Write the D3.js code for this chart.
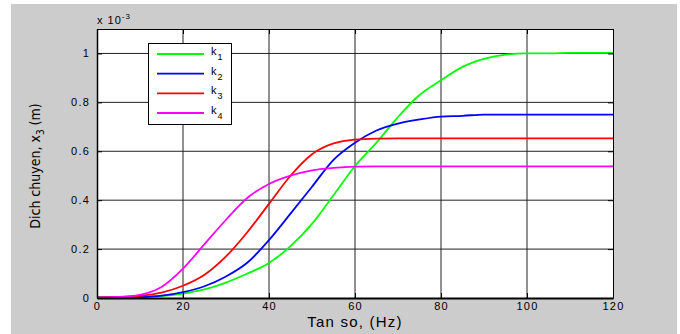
<!DOCTYPE html>
<html>
<head>
<meta charset="utf-8">
<script src="https://cdn.jsdelivr.net/npm/d3@7"></script>
<style>
  body { margin: 0; background: #fff; }
  svg { display: block; font-family: "Liberation Sans", Arial, sans-serif; }
</style>
</head>
<body>
<svg width="680" height="334"></svg>
<script>
// frequency samples (Hz)
var freq = [0,5,10,15,20,25,30,35,40,45,50,55,60,65,70,75,80,85,90,95,100,105,110,115,120];
// displacement x3, in units of 1e-3 m
var k1 = [0.004,0.004,0.005,0.008,0.018,0.035,0.063,0.1,0.143,0.212,0.303,0.42,0.54,0.635,0.74,0.83,0.89,0.945,0.978,0.995,1.0,1.0,1.002,1.002,1.002];
var k2 = [0.001,0.002,0.004,0.01,0.024,0.048,0.088,0.145,0.237,0.345,0.455,0.565,0.635,0.685,0.713,0.73,0.742,0.745,0.75,0.75,0.75,0.75,0.75,0.75,0.75];
var k3 = [0.002,0.004,0.009,0.022,0.05,0.095,0.17,0.27,0.385,0.5,0.588,0.632,0.648,0.652,0.653,0.653,0.653,0.653,0.653,0.653,0.653,0.653,0.653,0.653,0.653];
var k4 = [0.002,0.004,0.013,0.045,0.12,0.22,0.32,0.41,0.466,0.5,0.522,0.532,0.537,0.538,0.538,0.538,0.538,0.538,0.538,0.538,0.538,0.538,0.538,0.538,0.538];
var seriesNames = ['1','2','3','4'];
var seriesColors = ['#00ff00','#0000ff','#ff0000','#ff00ff'];
var xTicks = [0,20,40,60,80,100,120];
var yTicks = [0,0.2,0.4,0.6,0.8,1];

var svg = d3.select('svg');

// gray figure background
svg.append('rect')
    .attr('x', 11).attr('y', 4)
    .attr('width', 666).attr('height', 330)
    .attr('fill', '#cccccc');

var plot = {l: 97, t: 29, r: 613, b: 298};

var xScale = d3.scaleLinear().domain([0, 120]).range([plot.l, plot.r]);
var yScale = d3.scaleLinear().domain([0, 1.1]).range([plot.b, plot.t]);

svg.append('rect')
    .attr('x', plot.l).attr('y', plot.t)
    .attr('width', plot.r - plot.l).attr('height', plot.b - plot.t)
    .attr('fill', '#fff');

// grid
var gridG = svg.append('g');
gridG.selectAll('.vgrid')
    .data(xTicks.slice(1, -1))
    .enter().append('line')
    .attr('x1', function(d) { return xScale(d); })
    .attr('x2', function(d) { return xScale(d); })
    .attr('y1', plot.t).attr('y2', plot.b)
    .attr('stroke', '#222').attr('stroke-width', 1);
gridG.selectAll('.hgrid')
    .data(yTicks.slice(1))
    .enter().append('line')
    .attr('y1', function(d) { return yScale(d); })
    .attr('y2', function(d) { return yScale(d); })
    .attr('x1', plot.l).attr('x2', plot.r)
    .attr('stroke', '#222').attr('stroke-width', 1);

// curves
var line = d3.line()
    .x(function(d) { return xScale(d[0]); })
    .y(function(d) { return yScale(d[1]); })
    .curve(d3.curveMonotoneX);

[k1, k2, k3, k4].forEach(function(vals, i) {
    svg.append('path')
        .datum(freq.map(function(f, j) { return [f, vals[j]]; }))
        .attr('d', line)
        .attr('fill', 'none')
        .attr('stroke', seriesColors[i])
        .attr('stroke-width', 1.8);
});

// axes (ticks inside, box on all sides)
var xAxisB = svg.append('g')
    .attr('transform', 'translate(0,' + plot.b + ')')
    .call(d3.axisBottom(xScale).tickValues(xTicks).tickSizeInner(-5).tickSizeOuter(0).tickPadding(5));
var xAxisT = svg.append('g')
    .attr('transform', 'translate(0,' + plot.t + ')')
    .call(d3.axisTop(xScale).tickValues(xTicks).tickSizeInner(-5).tickSizeOuter(0).tickFormat(''));
var yAxisL = svg.append('g')
    .attr('transform', 'translate(' + plot.l + ',0)')
    .call(d3.axisLeft(yScale).tickValues(yTicks).tickSizeInner(-5).tickSizeOuter(0).tickPadding(7)
        .tickFormat(function(d) { return d === 0 || d === 1 ? d : d3.format('.1f')(d); }));
var yAxisR = svg.append('g')
    .attr('transform', 'translate(' + plot.r + ',0)')
    .call(d3.axisRight(yScale).tickValues(yTicks).tickSizeInner(-5).tickSizeOuter(0).tickFormat(''));

[xAxisB, xAxisT, yAxisL, yAxisR].forEach(function(g) {
    g.selectAll('path').attr('stroke', '#000');
    g.selectAll('line').attr('stroke', '#000');
    g.selectAll('text')
        .attr('fill', '#000')
        .style('font-size', '11px')
        .style('letter-spacing', '1.2px')
        .style('font-family', '"Liberation Sans", Arial, sans-serif');
});
xAxisB.select('path').attr('stroke-width', 2);
yAxisL.select('path').attr('stroke-width', 1.5);
xAxisB.selectAll('text').attr('dy', '0.6em');

// exponent label
var expText = svg.append('text')
    .attr('x', 97).attr('y', 24)
    .style('font-size', '11px')
    .style('letter-spacing', '1px');
expText.append('tspan').text('x 10');
expText.append('tspan').attr('dy', -5).style('font-size', '8px').text('-3');

// axis titles
svg.append('text')
    .attr('x', xScale(60)).attr('y', 327)
    .attr('text-anchor', 'middle')
    .style('font-size', '15px')
    .style('letter-spacing', '1.2px')
    .text('Tan so, (Hz)');

var yLab = svg.append('text')
    .attr('transform', 'translate(40,' + 166 + ') rotate(-90)')
    .attr('text-anchor', 'middle')
    .style('font-size', '14px')
    .style('font-family', '"Liberation Sans Narrow", "DejaVu Sans Condensed", Arial, sans-serif');
yLab.append('tspan').text('Dich chuyen, x');
yLab.append('tspan').attr('dy', 4).style('font-size', '10px').text('3');
yLab.append('tspan').attr('dy', -4).text(' (m)');

// legend
var legend = svg.append('g');
legend.append('rect')
    .attr('x', 148.5).attr('y', 43.5)
    .attr('width', 83).attr('height', 81)
    .attr('fill', '#fff').attr('stroke', '#000');

var legY = d3.scalePoint().domain(seriesNames).range([54, 113]);
seriesNames.forEach(function(name, i) {
    legend.append('line')
        .attr('x1', 157).attr('x2', 204)
        .attr('y1', legY(name)).attr('y2', legY(name))
        .attr('stroke', seriesColors[i]).attr('stroke-width', 1.8);
    var t = legend.append('text')
        .attr('x', 211).attr('y', legY(name) + 1)
        .style('font-size', '11px')
        .style('letter-spacing', '1px');
    t.append('tspan').text('k');
    t.append('tspan').attr('dy', 5).style('font-size', '9px').text(name);
});
</script>
</body>
</html>
